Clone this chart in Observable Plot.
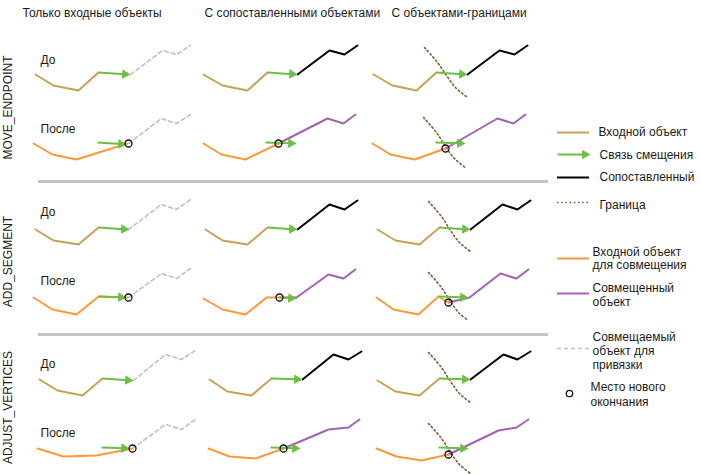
<!DOCTYPE html>
<html><head><meta charset="utf-8">
<script src="https://cdn.jsdelivr.net/npm/d3@7"></script>
<script src="https://cdn.jsdelivr.net/npm/@observablehq/plot@0.6"></script>
<style>html,body{margin:0;padding:0;background:#fff;overflow:hidden}</style>
</head><body><div id="chart"></div>
<script>
// Diagram geometry (pixel-like data coordinates)
const columnTitles = [
  {label: "Только входные объекты", x: 22},
  {label: "С сопоставленными объектами", x: 204},
  {label: "С объектами-границами", x: 391}
];
const sectionNames = ["MOVE_ENDPOINT", "ADD_SEGMENT", "ADJUST_VERTICES"];
const sectionCenters = [107, 261, 407];
const beforeRows = [60, 212, 364];
const afterRows = [129, 281, 433];
const separators = [181, 334];

const inputLines = [
  [[35,74],[53,85],[78,90],[98,72]],
  [[203,74],[222,85],[247,90],[267,72]],
  [[373,74],[392,85],[416,90],[436,72]],
  [[35,229],[53,240],[78,244],[98,227]],
  [[205,229],[222,240],[247,244],[267,227]],
  [[377,229],[395,240],[419,244],[439,227]],
  [[39,379],[57,390],[82,395],[102,378]],
  [[209,379],[227,391],[251,395],[271,378]],
  [[377,380],[395,391],[419,395],[439,378]]
];
const snapTargets = [
  [[130,74],[162,50],[176,54],[190,45]],
  [[128,143],[161,118],[176,123],[190,114]],
  [[128,229],[161,204],[176,209],[190,199]],
  [[128,297],[161,273],[176,278],[190,268]],
  [[133,380],[165,354],[181,359],[195,350]],
  [[132,448],[165,424],[181,429],[195,419]]
];
const matchedLines = [
  [[297,74],[329,50],[344,54],[357,45]],
  [[467,74],[499,50],[514,54],[527,45]],
  [[297,229],[329,204],[344,209],[357,200]],
  [[470,229],[502,204],[517,209],[530,200]],
  [[302,379],[333,354],[348,359],[361,351]],
  [[470,379],[503,354],[517,359],[530,351]]
];
const snapInputs = [
  [[33,143],[52,154],[76,159],[127,143]],
  [[203,143],[221,154],[245,159],[278,143]],
  [[372,143],[390,154],[414,159],[445,148]],
  [[33,297],[52,309],[76,314],[98,296],[127,297]],
  [[203,298],[222,309],[245,314],[266,297],[279,297]],
  [[376,297],[393,309],[418,314],[438,296],[448,302]],
  [[37,448],[63,456],[96,455],[132,448]],
  [[208,448],[229,456],[255,458],[283,448]],
  [[376,448],[396,456],[421,460],[448,454]]
];
const snappedLines = [
  [[278,143],[327,118],[343,123],[355,114]],
  [[445,148],[497,118],[513,123],[525,114]],
  [[279,297],[296,297],[328,274],[343,278],[355,269]],
  [[448,302],[469,297],[500,273],[516,278],[528,269]],
  [[283,448],[328,429],[348,427],[359,419]],
  [[448,454],[498,430],[516,427],[528,419]]
];
const boundaries = [
  [[424,47],[437,62],[446,75],[455,87],[467,97]],
  [[423,117],[436,132],[445,146],[454,158],[466,168]],
  [[428,201],[441,216],[450,230],[459,242],[470,251]],
  [[428,272],[441,287],[450,301],[459,313],[468,320]],
  [[428,352],[441,367],[450,381],[459,393],[470,402]],
  [[428,423],[441,438],[450,452],[459,464],[470,473]]
];
const links = [
  [98,72,130,74],[267,72,297,74],[436,72,467,74],
  [97,142,126,144],[265,142,296,143],[435,142,465,143],
  [98,227,129,229],[267,227,297,229],[439,227,470,229],
  [98,296,126,297],[279,297,296,298],[438,296,468,297],
  [102,378,133,380],[271,378,302,379],[439,378,470,379],
  [101,447,129,448],[270,447,300,448],[438,447,468,448]
];
const newEnds = [[128,143],[278,143],[445,148],[128,297],[279,297],[448,302],[132,448],[283,448],[448,454]];

// Legend
const legendSwatches = [
  {kind: "input", y: 132}, {kind: "link", y: 154}, {kind: "matched", y: 177},
  {kind: "boundary", y: 202}, {kind: "snapInput", y: 258}, {kind: "snapped", y: 293},
  {kind: "target", y: 348}, {kind: "end", y: 393}
];
const legendTexts = [
  {text: "Входной объект", x: 598, y: 132},
  {text: "Связь смещения", x: 599, y: 155},
  {text: "Сопоставленный", x: 599, y: 177},
  {text: "Граница", x: 599, y: 205},
  {text: "Входной объект", x: 592, y: 252},
  {text: "для совмещения", x: 592, y: 265},
  {text: "Совмещенный", x: 592, y: 288},
  {text: "объект", x: 592, y: 302},
  {text: "Совмещаемый", x: 592, y: 337},
  {text: "объект для", x: 592, y: 351},
  {text: "привязки", x: 592, y: 365},
  {text: "Место нового", x: 590, y: 387},
  {text: "окончания", x: 590, y: 402}
];

const C = {
  input: "#c9a155", snapInput: "#fa9a3a", snapped: "#a560b6", matched: "#000000",
  link: "#6cbf45", target: "#c0c0c0", boundary: "#8b5a32", sep: "#c4c4c4", text: "#1a1a1a"
};

const rows = (arr) => arr.flatMap((pts, i) => pts.map(([x, y]) => ({id: i, x, y})));

// arrow geometry from link endpoints
const HEAD = 5.5;
const arrows = links.map(([x1, y1, x2, y2]) => {
  const a = Math.atan2(y2 - y1, x2 - x1);
  return {x1, y1, x2, y2, hx: x2 - HEAD * Math.cos(a), hy: y2 - HEAD * Math.sin(a), rot: a * 180 / Math.PI + 90};
});

const LX1 = 557, LX2 = 589;
const swatch = (kind) => legendSwatches.filter(d => d.kind === kind);
const legendArrows = swatch("link").map(d => ({x1: LX1, y1: d.y, x2: LX2 + 1, y2: d.y, hx: LX2 + 1 - HEAD, hy: d.y, rot: 90}));
const allArrows = arrows.concat(legendArrows);

const lineMark = (data, stroke, extra = {}) => Plot.line(rows(data), {x: "x", y: "y", z: "id", stroke, strokeWidth: 2, ...extra});
const legendLine = (kind, stroke, extra = {}) => Plot.ruleY(swatch(kind), {y: "y", x1: LX1, x2: LX2, stroke, strokeWidth: 2, ...extra});

const font = "'Liberation Sans', Arial, sans-serif";

const chart = Plot.plot({
  width: 701, height: 474, margin: 0,
  x: {domain: [0, 701], range: [0, 701], axis: null},
  y: {domain: [0, 474], range: [0, 474], axis: null},
  style: {fontFamily: font, fontSize: "12px", background: "white"},
  marks: [
    Plot.ruleY(separators, {x1: 38, x2: 548, stroke: C.sep, strokeWidth: 3}),
    lineMark(snapTargets, C.target, {strokeWidth: 1.6, strokeDasharray: "4,3"}),
    lineMark(boundaries, C.boundary, {strokeWidth: 1.6, strokeDasharray: "1.6,2.6", curve: "catmull-rom"}),
    lineMark(inputLines, C.input),
    lineMark(matchedLines, C.matched),
    lineMark(snappedLines, C.snapped),
    lineMark(snapInputs, C.snapInput),
    Plot.link(allArrows, {x1: "x1", y1: "y1", x2: "hx", y2: "hy", stroke: C.link, strokeWidth: 2}),
    Plot.dot(allArrows, {x: "hx", y: "hy", symbol: "triangle", r: 3.6, fill: C.link, rotate: "rot"}),
    Plot.dot(newEnds, {x: d => d[0], y: d => d[1], r: 3.5, stroke: "#111", strokeWidth: 1.3, fill: "none"}),
    // legend
    legendLine("input", C.input),
    legendLine("matched", C.matched),
    legendLine("boundary", C.boundary, {strokeWidth: 1.6, strokeDasharray: "1.6,2.6"}),
    legendLine("snapInput", C.snapInput),
    legendLine("snapped", C.snapped),
    legendLine("target", C.target, {strokeWidth: 1.6, strokeDasharray: "4,3"}),
    Plot.dot(swatch("end"), {x: 569, y: "y", r: 3.2, stroke: "#111", strokeWidth: 1.3, fill: "none"}),
    Plot.text(legendTexts, {x: "x", y: "y", text: "text", textAnchor: "start", fill: C.text, fontSize: 12}),
    // titles & labels
    Plot.text(columnTitles, {x: "x", y: 13, text: "label", textAnchor: "start", fill: C.text, fontSize: 12}),
    Plot.text(sectionNames, {x: 8, y: (d, i) => sectionCenters[i], text: d => d, rotate: -90, fill: C.text, fontSize: 12}),
    Plot.text(beforeRows, {x: 40, y: d => d, text: () => "До", textAnchor: "start", fill: C.text, fontSize: 12}),
    Plot.text(afterRows, {x: 40, y: d => d, text: () => "После", textAnchor: "start", fill: C.text, fontSize: 12})
  ]
});
document.getElementById("chart").append(chart);
</script>
</body></html>
